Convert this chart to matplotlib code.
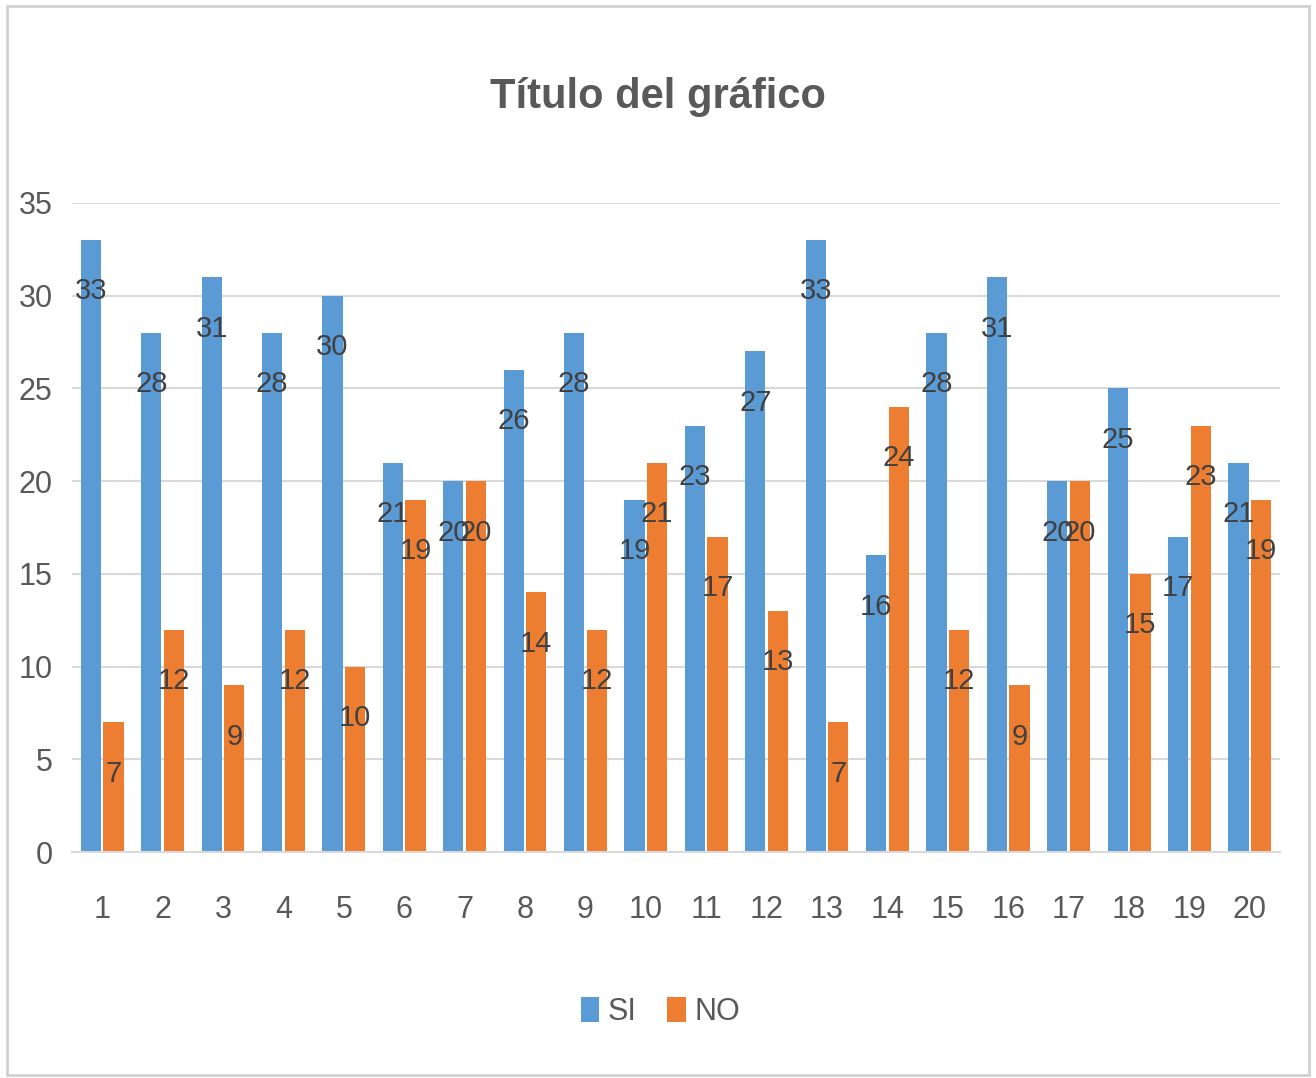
import matplotlib
matplotlib.use("Agg")
import matplotlib.pyplot as plt
import matplotlib.patches as mpatches
from matplotlib import font_manager
import numpy as np

categories = [str(i) for i in range(1, 21)]
si_values = [33, 28, 31, 28, 30, 21, 20, 26, 28, 19, 23, 27, 33, 16, 28, 31, 20, 25, 17, 21]
no_values = [7, 12, 9, 12, 10, 19, 20, 14, 12, 21, 17, 13, 7, 24, 12, 9, 20, 15, 23, 19]
yticks = [0, 5, 10, 15, 20, 25, 30, 35]

names = {f.name for f in font_manager.fontManager.ttflist}
fam = ["Liberation Sans Narrow", "DejaVu Sans"] if "Liberation Sans Narrow" in names else ["Liberation Sans", "DejaVu Sans"]
plt.rcParams['font.family'] = fam

BLUE = "#5B9BD5"
ORANGE = "#ED7D31"
TXT = "#595959"
GRID = "#D9D9D9"

fig = plt.figure(figsize=(13.16, 10.78), dpi=100)
fig.patches.append(mpatches.Rectangle((0.005, 0.003), 0.99, 0.991, transform=fig.transFigure,
                                      fill=False, edgecolor="#D0D0D0", linewidth=2))
ax = fig.add_axes([0.0547, 0.2096, 0.918, 0.6021])

x = np.arange(len(categories))
w = 0.335
b1 = ax.bar(x - w / 2 - 0.02, si_values, w, color=BLUE, label="SI", zorder=2)
b2 = ax.bar(x + w / 2 + 0.02, no_values, w, color=ORANGE, label="NO", zorder=2)

for bars, vals in ((b1, si_values), (b2, no_values)):
    for r, v in zip(bars, vals):
        ax.annotate(str(v), (r.get_x() + r.get_width() / 2, v), xytext=(0, -37),
                    textcoords="offset points", ha="center", va="center",
                    fontsize=21, color="#404040", zorder=3)

ax.set_xlim(-0.5, len(categories) - 0.5)
ax.set_ylim(0, 35)
ax.set_yticks(yticks)
ax.set_xticks(x)
ax.set_xticklabels(categories)
ax.tick_params(axis="both", length=0, labelsize=22, labelcolor=TXT)
ax.tick_params(axis="x", pad=31)
ax.tick_params(axis="y", pad=14)
ax.yaxis.grid(True, color=GRID, linewidth=1.5, zorder=0)
ax.set_axisbelow(True)
for s in ("top", "right", "left"):
    ax.spines[s].set_visible(False)
ax.spines["bottom"].set_color(GRID)
ax.spines["bottom"].set_linewidth(1.5)

fig.text(0.5, 0.91, "Título del gráfico", ha="center", va="center",
         fontsize=30, fontweight="bold", color=TXT)

fig.legend(handles=[b1, b2], labels=["SI", "NO"], loc="center", bbox_to_anchor=(0.502, 0.061),
           ncol=2, frameon=False, fontsize=22, handlelength=0.6, handleheight=0.9,
           handletextpad=0.3, columnspacing=1.0, labelcolor=TXT)

fig.savefig("out.png", dpi=100, facecolor="white")
